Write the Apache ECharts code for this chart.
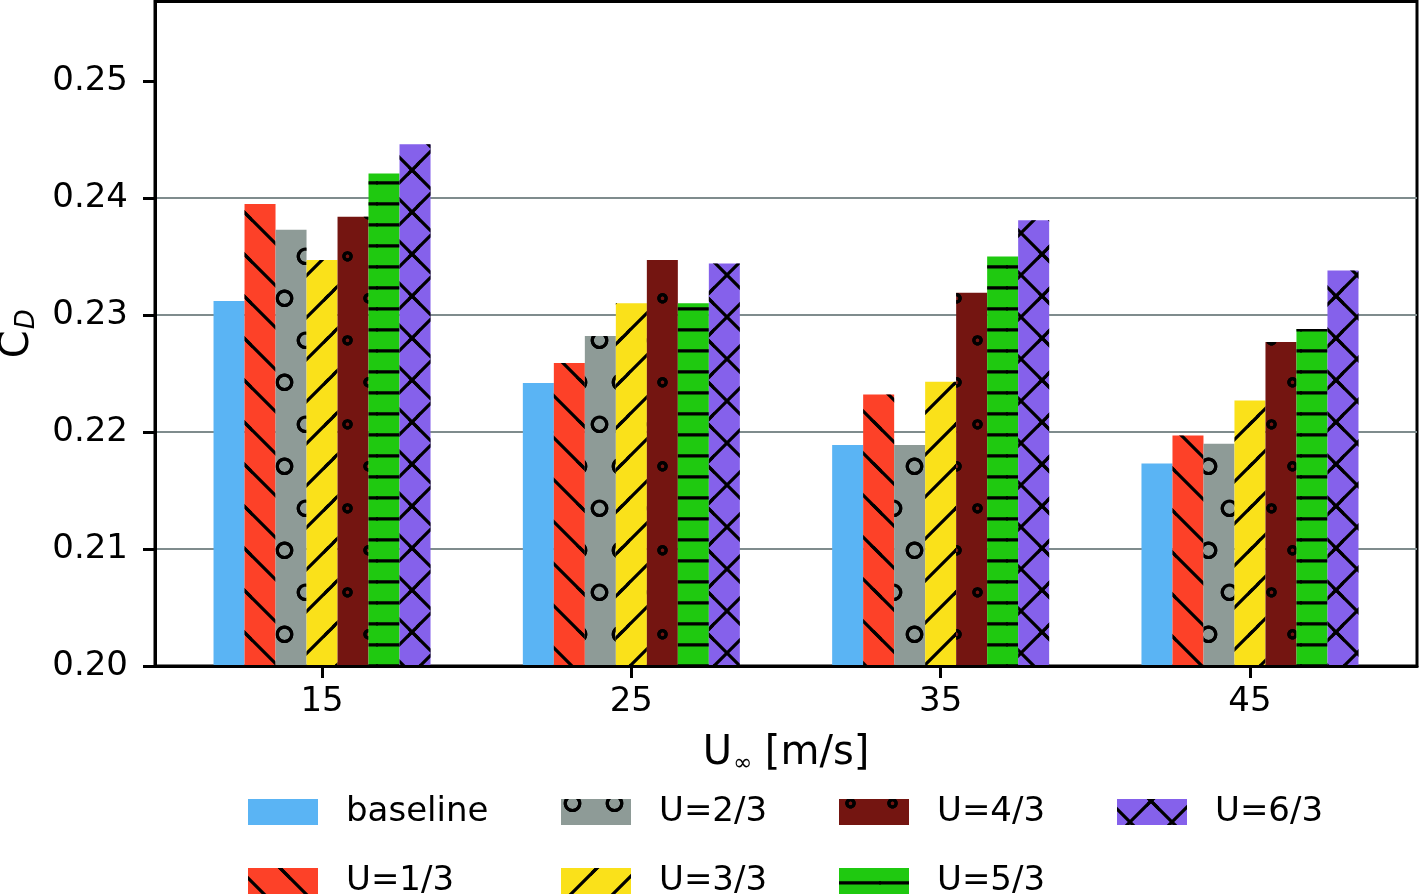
<!DOCTYPE html>
<html>
<head>
<meta charset="utf-8">
<script src="https://cdn.jsdelivr.net/npm/echarts@6/dist/echarts.min.js"></script>
<style>
  html, body { margin: 0; padding: 0; background: #fff; }
  #chart { width: 1419px; height: 896px; }
</style>
</head>
<body>
<div id="chart"></div>
<script>
// ---- data ----
const categories = [15, 25, 35, 45];
const seriesNames = ['baseline', 'U=1/3', 'U=2/3', 'U=3/3', 'U=4/3', 'U=5/3', 'U=6/3'];
const baseline = [0.2312, 0.2242, 0.2189, 0.2173];
const u13 = [0.2395, 0.2259, 0.2232, 0.2197];
const u23 = [0.2373, 0.2282, 0.2189, 0.2190];
const u33 = [0.2347, 0.2310, 0.2243, 0.2227];
const u43 = [0.2384, 0.2347, 0.2319, 0.2277];
const u53 = [0.2421, 0.2310, 0.2350, 0.2288];
const u63 = [0.2446, 0.2344, 0.2381, 0.2338];
const yTicks = [0.20, 0.21, 0.22, 0.23, 0.24, 0.25];
const xTicks = [15, 25, 35, 45];

// ---- hatch patterns (decals) ----
function ringPath(cx, cy, ro, ri) {
  const n = 32; let s = '';
  for (let i = 0; i < n; i++) {
    const a = 2 * Math.PI * i / n;
    s += (i ? 'L' : 'M') + (cx + ro * Math.cos(a)).toFixed(2) + ',' + (cy + ro * Math.sin(a)).toFixed(2) + ' ';
  }
  s += 'Z ';
  for (let i = 0; i < n; i++) {
    const a = -2 * Math.PI * i / n;
    s += (i ? 'L' : 'M') + (cx + ri * Math.cos(a)).toFixed(2) + ',' + (cy + ri * Math.sin(a)).toFixed(2) + ' ';
  }
  return s + 'Z ';
}
function poly(pts) {
  return pts.map((p, i) => (i ? 'L' : 'M') + p[0].toFixed(2) + ',' + p[1].toFixed(2)).join(' ') + ' Z ';
}
// diagonal bands, slope +1 ("\") or -1 ("/"), y = s*x + c (mod P)
function diagBands(P, s, c, lw) {
  const t = lw * Math.SQRT2 / 2; let out = '';
  for (let k = -3; k <= 3; k++) {
    const cc = c + P * k;
    let xa, xb;
    if (s > 0) { xa = Math.max(-4, -6 - cc); xb = Math.min(P + 4, P + 6 - cc); }
    else { xa = Math.max(-4, cc - P - 6); xb = Math.min(P + 4, cc + 6); }
    if (xb <= xa) continue;
    out += poly([[xa, s * xa + cc - t], [xb, s * xb + cc - t], [xb, s * xb + cc + t], [xa, s * xa + cc + t]]);
  }
  return out;
}
function hBands(W, ys, lw) {
  return ys.map(y => poly([[-2, y - lw / 2], [W + 2, y - lw / 2], [W + 2, y + lw / 2], [-2, y + lw / 2]])).join('');
}
function decalFrom(W, H, body) {
  const marks = `M${-W},${-H} l0.01,0 l0,0.01 Z M${2 * W},${2 * H} l-0.01,0 l0,-0.01 Z `;
  return {
    symbol: 'path://' + marks + body,
    symbolSize: 3,
    symbolKeepAspect: false,
    dashArrayX: [W, 0],
    dashArrayY: [H, 0],
    color: '#000',
    rotation: 0,
    maxTileWidth: 512,
    maxTileHeight: 512
  };
}
const P = 42, LW = 3.2;
const decalBack = decalFrom(P, P, diagBands(P, 1, 10, LW));
const decalFwd = decalFrom(P, P, diagBands(P, -1, 36, LW));
const decalCross = decalFrom(P, P, diagBands(P, 1, 10, LW) + diagBands(P, -1, 36, LW));
const decalH = decalFrom(P, P, hBands(P, [14.8, 35.8], LW));
function ringsTile(ro, ri) {
  return ringPath(11.5, 4.3, ro, ri) + ringPath(11.5, 88.3, ro, ri) +
         ringPath(32.5, 46.3, ro, ri) + ringPath(-9.5, 46.3, ro, ri);
}
const decalO = decalFrom(P, 2 * P, ringsTile(8.8, 5.6));
const decalDot = decalFrom(P, 2 * P, ringsTile(5.2, 2.0));

const colors = ['#5AB4F4', '#FD4128', '#8E9B97', '#FAE11A', '#741511', '#1FC910', '#8561EB'];
const decals = [null, decalBack, decalO, decalFwd, decalDot, decalH, decalCross];
const values = [baseline, u13, u23, u33, u43, u53, u63];

const FONT = 'DejaVu Sans';
const series = seriesNames.map((name, i) => {
  const itemStyle = { color: colors[i] };
  if (decals[i]) itemStyle.decal = decals[i];
  return {
    name, type: 'bar',
    data: categories.map((c, j) => [c, values[i][j]]),
    barWidth: 31, barGap: '0%',
    itemStyle,
    emphasis: { disabled: true },
    z: 2
  };
});

// legend positions (column-major as in the original)
const legendPos = [
  { name: 'baseline', left: 248, top: 795 },
  { name: 'U=1/3', left: 248, top: 864 },
  { name: 'U=2/3', left: 561, top: 795 },
  { name: 'U=3/3', left: 561, top: 864 },
  { name: 'U=4/3', left: 839, top: 795 },
  { name: 'U=5/3', left: 839, top: 864 },
  { name: 'U=6/3', left: 1117, top: 795 }
];
const legends = legendPos.map(l => ({
  data: [l.name], left: l.left, top: l.top, padding: 0, itemGap: 0,
  itemWidth: 70, itemHeight: 26, icon: 'rect', selectedMode: false,
  textStyle: { fontFamily: FONT, fontSize: 34, color: '#000', lineHeight: 20, padding: [6, 0, 0, 23] }
}));

const chart = echarts.init(document.getElementById('chart'), null, { renderer: 'canvas' });
chart.setOption({
  animation: false,
  backgroundColor: '#fff',
  grid: {
    left: 155, right: 2, top: 1.5, bottom: 230, containLabel: false, outerBoundsMode: 'none',
    show: true, borderColor: '#000', borderWidth: 3, backgroundColor: 'transparent'
  },
  legend: legends,
  xAxis: {
    type: 'value', min: 9.6, max: 50.4, z: 10,
    axisLine: { show: true, lineStyle: { color: '#000', width: 3 } },
    axisTick: { show: true, customValues: xTicks, length: 12, lineStyle: { color: '#000', width: 3 } },
    axisLabel: { customValues: xTicks, fontFamily: FONT, fontSize: 34, color: '#000', margin: 19 },
    splitLine: { show: false },
    name: '{u|U}{s|∞}{u| [m/s]}', nameLocation: 'middle', nameGap: 64,
    nameTextStyle: {
      rich: {
        u: { fontFamily: FONT, fontSize: 40, color: '#000', lineHeight: 44, verticalAlign: 'bottom' },
        s: { fontFamily: FONT, fontSize: 23, color: '#000', lineHeight: 22, verticalAlign: 'bottom', padding: [0, 0, -2, 1] }
      }
    }
  },
  yAxis: {
    type: 'value', min: 0.20, max: 0.2568, interval: 0.01,
    axisLine: { show: true, lineStyle: { color: '#000', width: 3 } },
    axisTick: { show: true, customValues: yTicks, length: 12, lineStyle: { color: '#000', width: 3 } },
    axisLabel: { customValues: yTicks, fontFamily: FONT, fontSize: 34, color: '#000', margin: 27, formatter: v => v.toFixed(2) },
    splitLine: { show: true, showMinLine: false, showMaxLine: false, lineStyle: { color: '#7F8C8D', width: 2 } },
    name: '{c|C}{d|D}', nameLocation: 'middle', nameGap: 117, nameRotate: 90,
    nameTextStyle: {
      rich: {
        c: { fontFamily: FONT, fontSize: 40, color: '#000', lineHeight: 44, verticalAlign: 'bottom' },
        d: { fontFamily: FONT, fontSize: 26, fontStyle: 'italic', color: '#000', lineHeight: 26, verticalAlign: 'bottom', padding: [0, 0, -2, 1] }
      }
    }
  },
  series
});
</script>
</body>
</html>
